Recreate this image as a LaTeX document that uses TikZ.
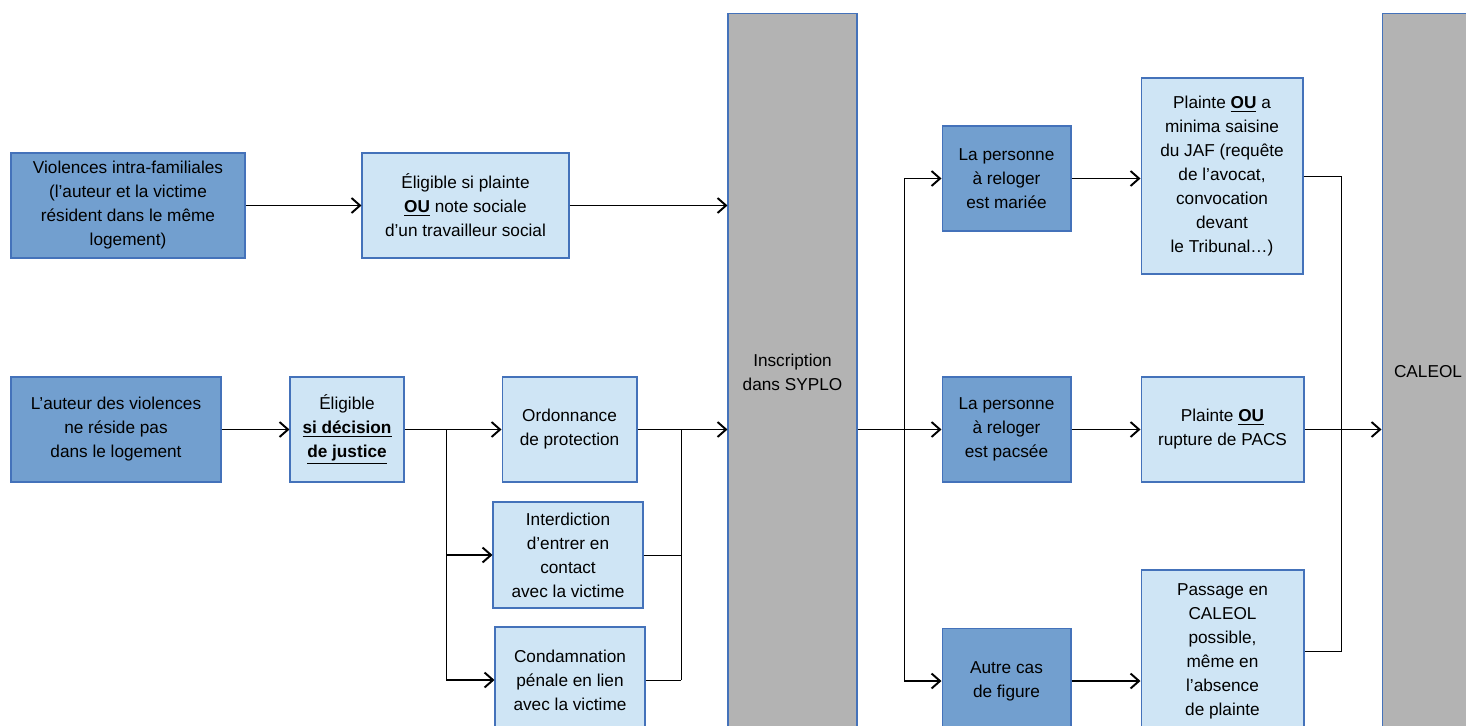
\documentclass[tikz,border=0pt]{standalone}
\usepackage{fontspec}
\setmainfont{Liberation Sans}
\usetikzlibrary{positioning, arrows.meta}
\definecolor{darkbox}{RGB}{114,159,207}
\definecolor{lightbox}{RGB}{207,229,245}
\definecolor{boxline}{RGB}{68,114,186}
\definecolor{colgray}{RGB}{179,179,179}

\begin{document}
\begin{tikzpicture}[x=0.02cm, y=-0.02cm, >={Straight Barb[length=1.7mm, width=3mm]},
  base/.style={draw=boxline, line width=0.6pt, align=center, inner sep=2pt,
               font=\fontsize{9.8}{13.66}\selectfont},
  dark/.style={base, fill=darkbox, minimum height=2.1cm},
  light/.style={base, fill=lightbox},
  column/.style={base, fill=colgray, minimum width=2.58cm, minimum height=14.36cm},
  arr/.style={->, line width=1.1pt},
  link/.style={line width=0.5pt}]
  \useasboundingbox (0,0) rectangle (1466,726);

  \node[dark, minimum width=4.68cm] (vif) at (128,205.5)
    {Violences intra-familiales\\(l’auteur et la victime\\résident dans le même\\logement)};
  \node[light, minimum width=4.14cm, minimum height=2.1cm, right=2.32cm of vif] (elig1)
    {Éligible si plainte\\\textbf{\underline{OU}} note sociale\\d’un travailleur social};
  \node[column] (syplo) at (792.5,372) {Inscription\\dans SYPLO};
  \node[column, minimum width=1.84cm] (caleol) at (1428,372) {CALEOL};

  \node[dark, minimum width=4.2cm] (auteur) at (116,429.5)
    {L’auteur des violences\\ne réside pas\\dans le logement};
  \node[light, minimum width=2.28cm, minimum height=2.1cm, right=1.36cm of auteur] (elig2)
    {Éligible\\\textbf{\underline{si décision}}\\\textbf{\underline{de justice}}};
  \node[light, minimum width=2.7cm, minimum height=2.1cm, right=1.94cm of elig2] (ordo)
    {Ordonnance\\de protection};
  \node[light, minimum width=3cm, minimum height=2.12cm] (inter) at (568,555)
    {Interdiction\\d’entrer en\\contact\\avec la victime};
  \node[light, minimum width=3cm, minimum height=2.12cm] (condam) at (570,680)
    {Condamnation\\pénale en lien\\avec la victime};

  \node[dark, minimum width=2.58cm] (marie) at (1006.5,178.5) {La personne\\à reloger\\est mariée};
  \node[dark, minimum width=2.58cm] (pacse) at (1006.5,429.5) {La personne\\à reloger\\est pacsée};
  \node[dark, minimum width=2.58cm] (autre) at (1006.5,681) {Autre cas\\de figure};
  \node[light, minimum width=3.24cm, minimum height=3.92cm] (plainte1) at (1222,176)
    {Plainte \textbf{\underline{OU}} a\\minima saisine\\du JAF (requête\\de l’avocat,\\convocation\\devant\\le Tribunal…)};
  \node[light, minimum width=3.26cm, minimum height=2.1cm] (plainte2) at (1222.5,429.5)
    {Plainte \textbf{\underline{OU}}\\rupture de PACS};
  \node[light, minimum width=3.26cm, minimum height=3.24cm] (passage) at (1222.5,651)
    {Passage en\\CALEOL\\possible,\\même en\\l’absence\\de plainte};

  \coordinate (fork1) at (446,429.5);
  \coordinate (join1) at (681,429.5);
  \coordinate (fork2) at (904,429.5);
  \coordinate (join2) at (1341,429.5);

  \draw[arr] (vif) -- (elig1);
  \draw[arr] (elig1.east) -- (elig1.east -| syplo.west);
  \draw[arr] (auteur) -- (elig2);
  \draw[arr] (elig2) -- (ordo);
  \draw[link] (fork1) -- (fork1 |- condam);
  \draw[arr] (fork1 |- inter) -- (inter.west);
  \draw[arr] (fork1 |- condam) -- (condam.west);
  \draw[arr] (ordo.east) -- (ordo.east -| syplo.west);
  \draw[link] (join1) -- (join1 |- condam);
  \draw[link] (inter.east) -- (inter.east -| join1);
  \draw[link] (condam.east) -- (condam.east -| join1);

  \draw[arr] (syplo.east |- pacse) -- (pacse.west);
  \draw[link] (fork2 |- marie) -- (fork2 |- autre);
  \draw[arr] (fork2 |- marie) -- (marie.west);
  \draw[arr] (fork2 |- autre) -- (autre.west);
  \draw[arr] (marie) -- (marie -| plainte1.west);
  \draw[arr] (pacse) -- (plainte2);
  \draw[arr] (autre) -- (autre -| passage.west);
  \draw[link] (plainte1.east) -| (join2 |- passage.east) -- (passage.east);
  \draw[arr] (plainte2) -- (plainte2 -| caleol.west);
\end{tikzpicture}
\end{document}
